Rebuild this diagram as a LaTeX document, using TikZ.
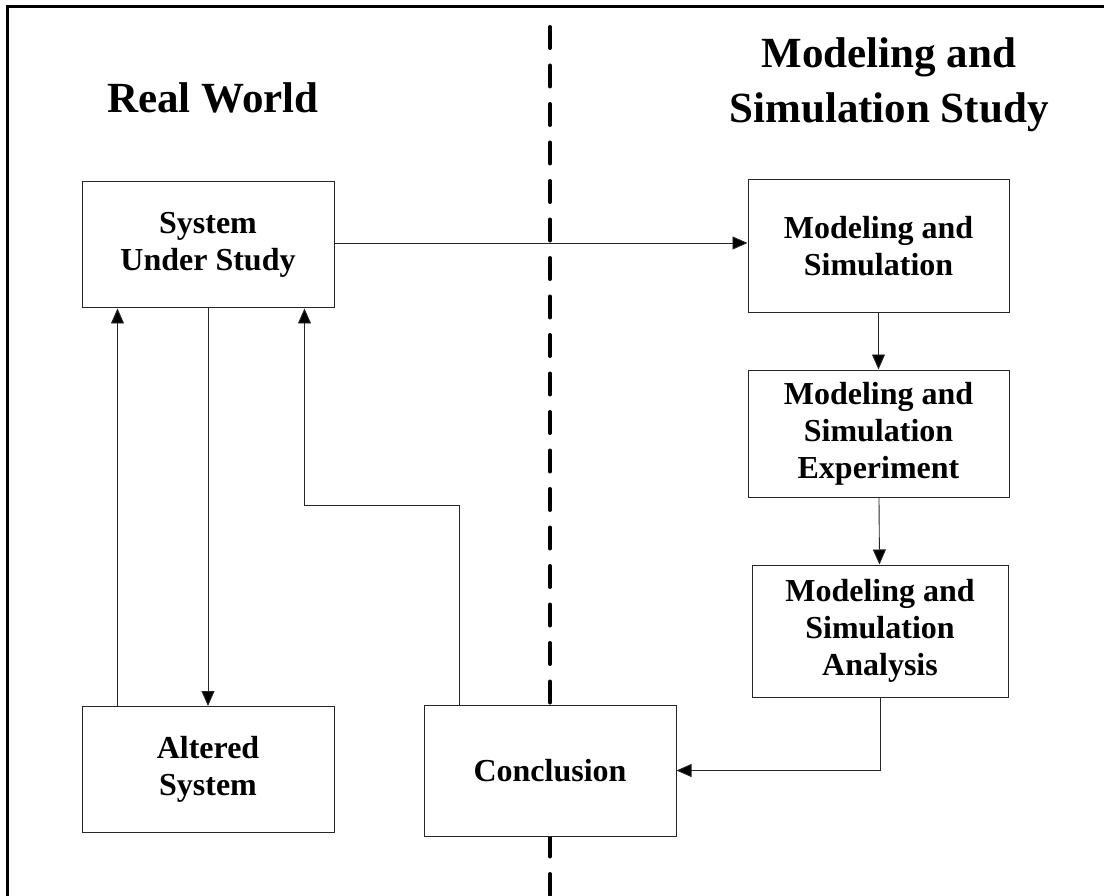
\documentclass[tikz,border=0pt]{standalone}
\usepackage{fontspec}
\setmainfont{Liberation Serif}
\usetikzlibrary{arrows.meta,positioning}

\begin{document}
\begin{tikzpicture}[x=1pt,y=-1pt,semithick]
  \tikzstyle{block}=[draw=black!85,fill=white,line width=1pt,align=center,
    font=\fontsize{32}{37}\selectfont\bfseries,inner sep=0pt]
  \tikzstyle{title}=[align=center,font=\fontsize{43}{55}\selectfont\bfseries]
  \tikzstyle{arr}=[-{Triangle[length=15pt,width=13pt,fill=black]},line width=0.9pt,draw=black!85]

  \useasboundingbox (0,0) rectangle (1104,896);
  \draw[line width=3pt] (7.5,896) -- (7.5,7) -- (1104,7);
  \draw[line width=4pt,line cap=round,dash pattern=on 21pt off 17.5pt] (550,27) -- (550,896);

  \node[title] (rw) at (213,98) {Real World};
  \node[title] (mss) at (889,85) {Modeling and\\Simulation Study};

  \node[block,minimum width=252pt,minimum height=126pt] (sus)   at (208,245)   {System\\Under Study};
  \node[block,minimum width=252pt,minimum height=126pt] (alt)   at (208,769.5) {Altered\\System};
  \node[block,minimum width=252pt,minimum height=131pt] (concl) at (550,770.5) {Conclusion};
  \node[block,minimum width=261pt,minimum height=133pt] (ms)    at (878.5,246.5) {Modeling and\\Simulation};
  \node[block,minimum width=261pt,minimum height=127pt] (mse)   at (878.5,433.5) {Modeling and\\Simulation\\Experiment};
  \node[block,minimum width=256pt,minimum height=132pt] (msa)   at (880,631)   {Modeling and\\Simulation\\Analysis};

  \draw[arr] ([yshift=2pt]sus.east) -- ([yshift=2pt]sus.east -| ms.west);
  \draw[arr] (ms) -- (mse);
  \draw[arr] (mse) -- (msa);
  \draw[arr] (msa.south) |- (concl.east);
  \draw[arr] ([xshift=36pt]concl.north west) -- ++(0,-199) -| ([xshift=-30pt]sus.south east);
  \draw[arr] (sus) -- (alt);
  \draw[arr] ([xshift=36pt]alt.north west) -- ([xshift=36pt]sus.south west);
\end{tikzpicture}
\end{document}
